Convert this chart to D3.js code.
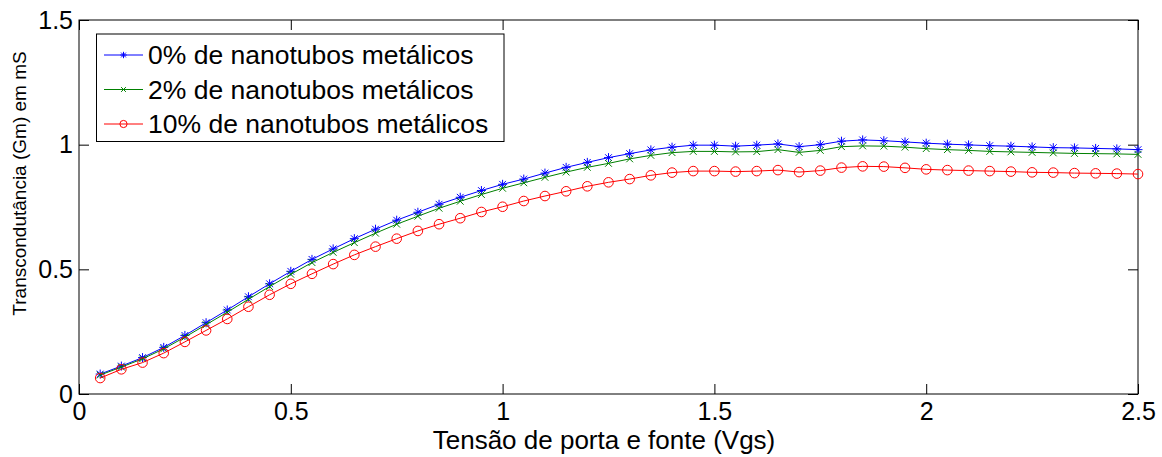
<!DOCTYPE html>
<html>
<head>
<meta charset="utf-8">
<script src="https://cdn.jsdelivr.net/npm/d3@7"></script>
<style>
  html, body { margin: 0; padding: 0; background: #fff; }
  svg { display: block; font-family: "Liberation Sans", Arial, Helvetica, sans-serif; }
</style>
</head>
<body>
<svg id="chart" width="1162" height="457"></svg>
<script>
const xValues = [0.05,0.10,0.15,0.20,0.25,0.30,0.35,0.40,0.45,0.50,
  0.55,0.60,0.65,0.70,0.75,0.80,0.85,0.90,0.95,1.00,
  1.05,1.10,1.15,1.20,1.25,1.30,1.35,1.40,1.45,1.50,
  1.55,1.60,1.65,1.70,1.75,1.80,1.85,1.90,1.95,2.00,
  2.05,2.10,2.15,2.20,2.25,2.30,2.35,2.40,2.45,2.50];

const gm0 = [0.080,0.112,0.146,0.187,0.235,0.286,0.337,0.390,0.442,0.492,
  0.540,0.582,0.623,0.661,0.697,0.729,0.761,0.789,0.816,0.841,
  0.862,0.886,0.909,0.929,0.948,0.964,0.979,0.990,0.998,0.998,
  0.994,0.998,1.003,0.992,1.000,1.014,1.019,1.016,1.011,1.006,
  1.002,0.999,0.996,0.994,0.991,0.988,0.987,0.985,0.983,0.980];

const gm2 = [0.076,0.108,0.141,0.181,0.228,0.278,0.328,0.380,0.431,0.480,
  0.527,0.568,0.607,0.645,0.681,0.713,0.745,0.773,0.800,0.825,
  0.847,0.869,0.890,0.909,0.925,0.943,0.957,0.968,0.973,0.973,
  0.971,0.972,0.980,0.969,0.977,0.992,0.995,0.994,0.990,0.984,
  0.980,0.977,0.973,0.971,0.969,0.967,0.965,0.964,0.963,0.961];

const gm10 = [0.064,0.099,0.126,0.164,0.209,0.255,0.301,0.350,0.398,0.442,
  0.482,0.521,0.558,0.591,0.623,0.654,0.681,0.705,0.730,0.751,
  0.774,0.794,0.813,0.833,0.849,0.862,0.877,0.888,0.894,0.894,
  0.892,0.894,0.898,0.890,0.896,0.908,0.913,0.912,0.907,0.901,
  0.898,0.896,0.894,0.892,0.889,0.888,0.886,0.885,0.884,0.882];

const seriesNames = ["0% de nanotubos metálicos", "2% de nanotubos metálicos", "10% de nanotubos metálicos"];
const xTicks = [0, 0.5, 1, 1.5, 2, 2.5];
const xTickLabels = ["0", "0.5", "1", "1.5", "2", "2.5"];
const yTicks = [0, 0.5, 1, 1.5];
const yTickLabels = ["0", "0.5", "1", "1.5"];
const xLabel = "Tensão de porta e fonte (Vgs)";
const yLabel = "Transcondutância (Gm) em mS";

const series = [
  { name: seriesNames[0], values: gm0, color: "#0000ff", marker: "star" },
  { name: seriesNames[1], values: gm2, color: "#008000", marker: "x" },
  { name: seriesNames[2], values: gm10, color: "#ff0000", marker: "circle" }
];

const mLeft = 79, mRight = 1138, mTop = 20, mBottom = 394;
const W = mRight - mLeft, H = mBottom - mTop;
const svg = d3.select("#chart");
const g = svg.append("g").attr("transform", `translate(${mLeft},${mTop})`);

const x = d3.scaleLinear().domain([0, 2.5]).range([0, W]);
const y = d3.scaleLinear().domain([0, 1.5]).range([H, 0]);

const FS = 25;

const xAxis = d3.axisBottom(x).tickValues(xTicks).tickFormat((d, i) => xTickLabels[i])
  .tickSizeInner(-10).tickSizeOuter(0).tickPadding(8);
const xTop = d3.axisTop(x).tickValues(xTicks).tickFormat("")
  .tickSizeInner(-10).tickSizeOuter(0);
const yAxis = d3.axisLeft(y).tickValues(yTicks).tickFormat((d, i) => yTickLabels[i])
  .tickSizeInner(-10).tickSizeOuter(0).tickPadding(6);
const yRight = d3.axisRight(y).tickValues(yTicks).tickFormat("")
  .tickSizeInner(-10).tickSizeOuter(0);

function styleAxis(sel) {
  sel.selectAll("path.domain").remove();
  sel.selectAll("line").attr("stroke", "#000").attr("stroke-width", 1);
  sel.selectAll("text").attr("fill", "#000").style("font-size", FS + "px")
    .style("font-family", '"Liberation Sans", Arial, sans-serif');
}

g.append("g").attr("transform", `translate(0,${H})`).call(xAxis).call(styleAxis);
g.append("g").call(xTop).call(styleAxis);
g.append("g").call(yAxis).call(styleAxis);
g.append("g").attr("transform", `translate(${W},0)`).call(yRight).call(styleAxis);

g.append("rect").attr("x", 0).attr("y", 0).attr("width", W).attr("height", H)
  .attr("fill", "none").attr("stroke", "#000").attr("stroke-width", 1);

function drawMarker(sel, type, color, s) {
  if (type === "circle") {
    sel.append("circle").attr("r", s).attr("fill", "none").attr("stroke", color).attr("stroke-width", 1);
  } else if (type === "x") {
    const d = s * 0.75;
    sel.append("path").attr("d", `M${-d},${-d}L${d},${d}M${-d},${d}L${d},${-d}`)
      .attr("stroke", color).attr("stroke-width", 1).attr("fill", "none");
  } else {
    const d = s * 0.75;
    sel.append("path").attr("d", `M${-s},0L${s},0M0,${-s}L0,${s}M${-d},${-d}L${d},${d}M${-d},${d}L${d},${-d}`)
      .attr("stroke", color).attr("stroke-width", 1).attr("fill", "none");
  }
}

const line = d3.line().x((d) => x(d[0])).y((d) => y(d[1]));
const sizes = { star: 4.5, x: 4.5, circle: 4.8 };

series.forEach((s) => {
  const pts = xValues.map((xv, i) => [xv, s.values[i]]);
  const sg = g.append("g");
  sg.append("path").datum(pts).attr("d", line).attr("fill", "none")
    .attr("stroke", s.color).attr("stroke-width", 1);
  pts.forEach((p) => {
    const m = sg.append("g").attr("transform", `translate(${x(p[0])},${y(p[1])})`);
    drawMarker(m, s.marker, s.color, sizes[s.marker]);
  });
});

svg.append("text").attr("x", 604).attr("y", 449).attr("text-anchor", "middle")
  .style("font-size", "26px").attr("fill", "#000").text(xLabel);
svg.append("text").attr("transform", "translate(26,183.5) rotate(-90)").attr("text-anchor", "middle")
  .style("font-size", "19px").attr("fill", "#000").text(yLabel);

const lg = svg.append("g");
lg.append("rect").attr("x", 96.5).attr("y", 34).attr("width", 407.5).attr("height", 107.5)
  .attr("fill", "#fff").attr("stroke", "#000").attr("stroke-width", 1);
const legBase = [64, 98.5, 133];
const legSizes = { star: 3.2, x: 3.2, circle: 3.6 };
series.forEach((s, i) => {
  const cy = legBase[i] - 9;
  lg.append("line").attr("x1", 104).attr("x2", 143).attr("y1", cy).attr("y2", cy)
    .attr("stroke", s.color).attr("stroke-width", 1);
  const m = lg.append("g").attr("transform", `translate(123.5,${cy})`);
  drawMarker(m, s.marker, s.color, legSizes[s.marker]);
  lg.append("text").attr("x", 148).attr("y", legBase[i]).style("font-size", "26.5px")
    .attr("fill", "#000").text(s.name);
});
</script>
</body>
</html>
